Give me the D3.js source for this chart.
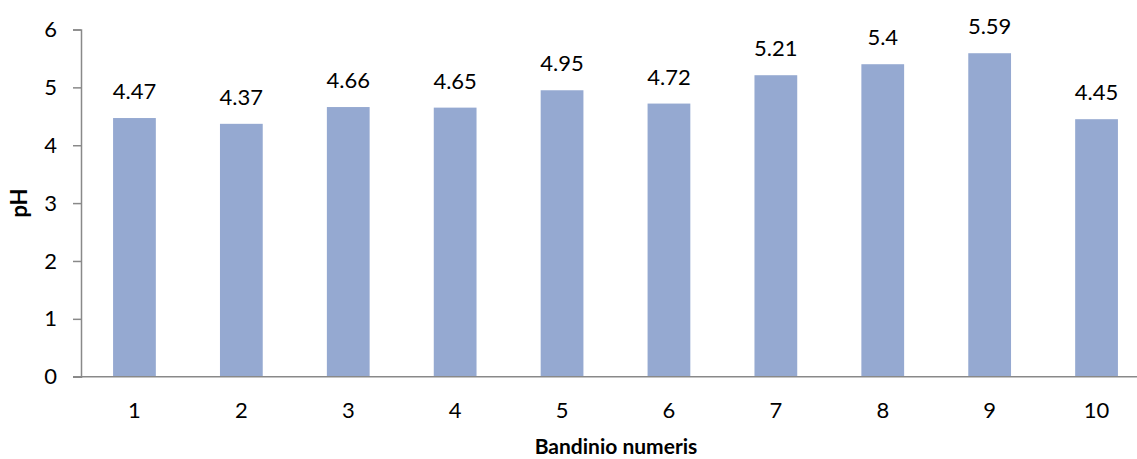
<!DOCTYPE html>
<html><head><meta charset="utf-8">
<script src="https://cdn.jsdelivr.net/npm/d3@7"></script>
<style>body{margin:0;background:#fff;} svg{display:block;}</style>
</head><body>
<svg id="c" width="1137" height="459"></svg>
<script>
const categories = ["1","2","3","4","5","6","7","8","9","10"];
const values = [4.47, 4.37, 4.66, 4.65, 4.95, 4.72, 5.21, 5.4, 5.59, 4.45];
const valueLabels = ["4.47","4.37","4.66","4.65","4.95","4.72","5.21","5.4","5.59","4.45"];
const yTicks = [0,1,2,3,4,5,6];
const yTitle = "pH";
const xTitle = "Bandinio numeris";

const svg = d3.select("#c");
const font = "Lato, 'Open Sans', sans-serif";
const x = d3.scaleBand().domain(categories).range([81, 1150]).paddingInner(0.6).paddingOuter(0.3);
const y = d3.scaleLinear().domain([0, 6]).range([376.7, 29.5]);
const axisColor = "#898989";

// bars
svg.append("g").selectAll("rect").data(values).join("rect")
  .attr("x", (d,i) => x(categories[i]))
  .attr("width", x.bandwidth())
  .attr("y", d => y(d))
  .attr("height", d => y(0) - y(d))
  .attr("fill", "#95a9d1");

// data labels
svg.append("g").selectAll("text").data(values).join("text")
  .attr("x", (d,i) => x(categories[i]) + x.bandwidth()/2)
  .attr("y", d => y(d) - 19)
  .attr("text-anchor", "middle")
  .attr("font-family", font).attr("font-size", 22).attr("fill", "#000")
  .text((d,i) => valueLabels[i]);

// y axis
const ya = svg.append("g").attr("transform", "translate(81,0)")
  .call(d3.axisLeft(y).tickValues(yTicks).tickSize(8).tickPadding(16).tickFormat(d3.format("d")));
ya.select(".domain").attr("stroke", axisColor).attr("stroke-width", 1.5);
ya.selectAll(".tick line").attr("stroke", axisColor).attr("stroke-width", 1.5);
ya.selectAll(".tick text").attr("font-family", font).attr("font-size", 22).attr("fill", "#000");

// x axis
const xa = svg.append("g").attr("transform", `translate(0,${y(0)})`)
  .call(d3.axisBottom(x).tickSize(0).tickPadding(26));
xa.select(".domain").attr("stroke", axisColor).attr("stroke-width", 1.5).attr("d", `M73,0H1137`);
xa.selectAll(".tick text").attr("font-family", font).attr("font-size", 22).attr("fill", "#000");

// titles
svg.append("text").attr("transform", "translate(27,203) rotate(-90)")
  .attr("text-anchor", "middle").attr("font-family", font).attr("font-weight", "bold")
  .attr("font-size", 22).text(yTitle);
svg.append("text").attr("x", 616).attr("y", 454)
  .attr("text-anchor", "middle").attr("font-family", font).attr("font-weight", "bold")
  .attr("font-size", 21).text(xTitle);
</script>
</body></html>
